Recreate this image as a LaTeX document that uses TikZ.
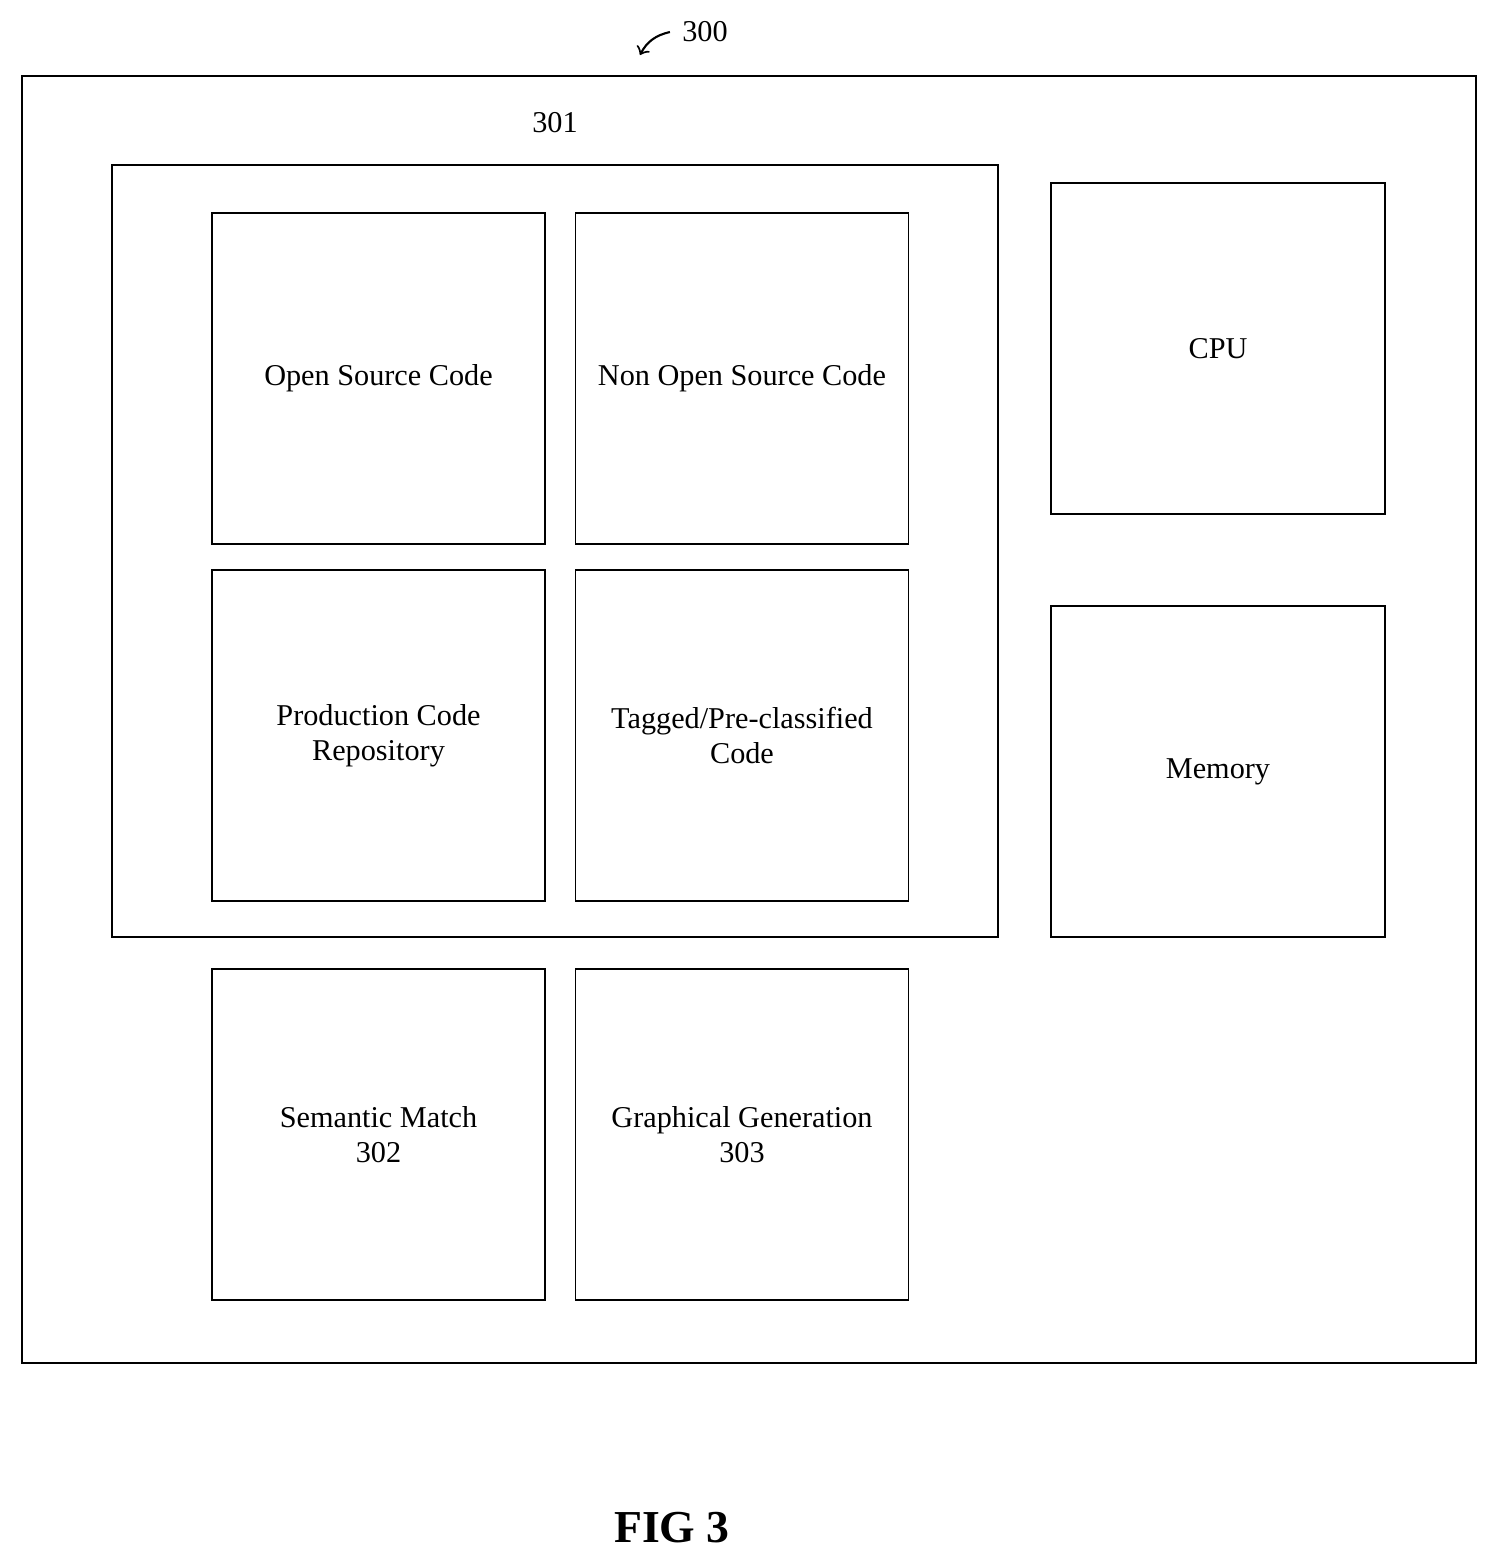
\documentclass[tikz,border=0pt]{standalone}
\usepackage{fontspec}
\setmainfont{Liberation Serif}
\begin{document}
\begin{tikzpicture}[x=0.01cm, y=-0.01cm,
  box/.style={rectangle, draw, line width=0.5pt, minimum width=3.33cm, minimum height=3.31cm, align=center, font=\fontsize{8.6}{10}\selectfont},
  lbl/.style={font=\fontsize{8.6}{10}\selectfont}]
  \useasboundingbox (0,0) rectangle (1499,1565);

  \node[draw, line width=0.6pt, minimum width=14.54cm, minimum height=12.87cm] (system) at (749,719.5) {};
  \node[draw, line width=0.6pt, minimum width=8.86cm, minimum height=7.72cm] (store) at (555,551) {};

  \node[box] (opensrc) at (378.5,378.5) {Open Source Code};
  \node[box] (nonopen) at (742,378.5) {Non Open Source Code};
  \node[box] (prodrepo) at (378.5,735.5) {Production Code\\Repository};
  \node[box] (tagged) at (742,735.5) {Tagged/Pre-classified\\Code};
  \node[box] (semantic) at (378.5,1134.5) {Semantic Match\\302};
  \node[box] (graphgen) at (742,1134.5) {Graphical Generation\\303};
  \node[box, minimum width=3.34cm] (cpu) at (1218,348.5) {CPU};
  \node[box, minimum width=3.34cm] (memory) at (1218,771.5) {Memory};

  \node[lbl] (lblstore) at (555,123) {301};
  \node[lbl] (lblsystem) at (705,32) {300};
  \draw[->, line width=0.6pt] (lblsystem.west) to[bend right=25] (640,55);

  \node[font=\bfseries\fontsize{13}{16}\selectfont] (figcap) at (672,1528) {FIG 3};
\end{tikzpicture}
\end{document}
